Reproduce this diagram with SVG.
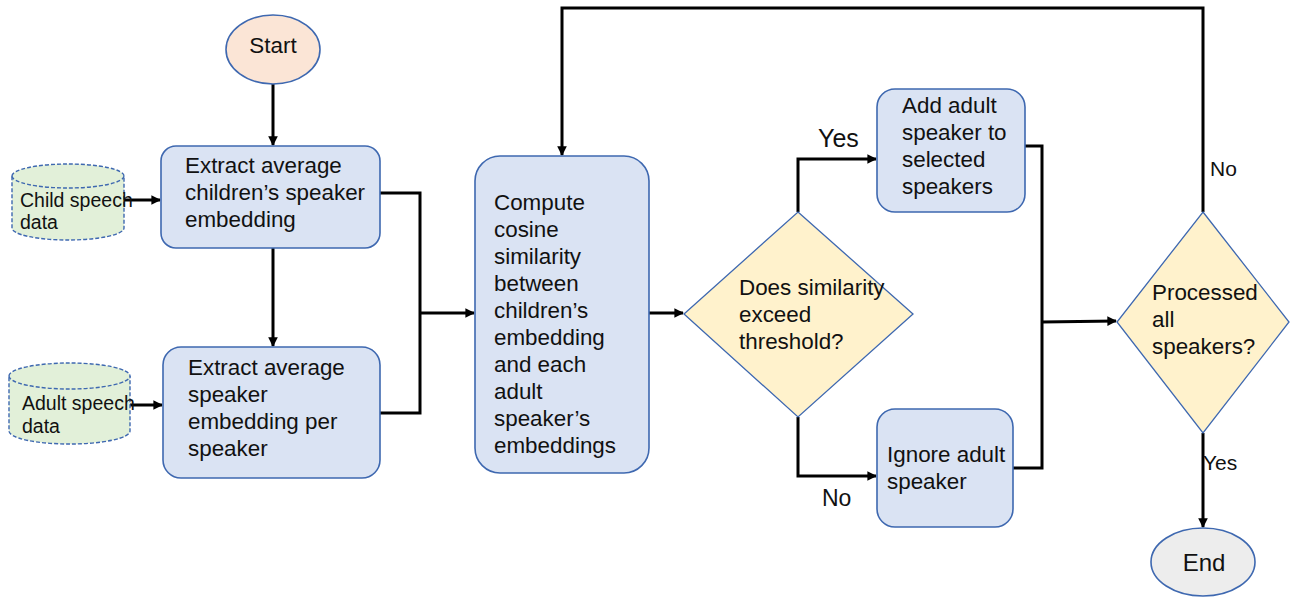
<svg xmlns="http://www.w3.org/2000/svg" width="1290" height="597" viewBox="0 0 1290 597">
<defs>
<marker id="arr" viewBox="0 0 10 10" refX="9" refY="5" markerWidth="3.6" markerHeight="3.2" orient="auto" markerUnits="strokeWidth">
<path d="M0,0 L10,5 L0,10 Z" fill="#000"/>
</marker>
</defs>
<style>
.box{fill:#dae3f3;stroke:#3e68b0;stroke-width:1.6}
.dia{fill:#fff2cc;stroke:#3e68b0;stroke-width:1.3}
.cyl{fill:#e2f0d9;stroke:#3e68b0;stroke-width:1.4;stroke-dasharray:4 2}
.t{font-family:"Liberation Sans",Arial,sans-serif;font-size:22.4px;fill:#111}
.s{font-family:"Liberation Sans",Arial,sans-serif;font-size:19.5px;fill:#111}
.c{fill:none;stroke:#000;stroke-width:3}
.ca{fill:none;stroke:#000;stroke-width:3;marker-end:url(#arr)}
</style>
<rect width="1290" height="597" fill="#fff"/>

<g id="connectors">
<path class="ca" d="M273,84 L273,145"/>
<path class="ca" d="M122,200 L160,200"/>
<path class="ca" d="M273,248 L273,346"/>
<path class="ca" d="M128,405 L162,405"/>
<path class="c" d="M380,193 L420,193 L420,413 L380,413"/>
<path class="ca" d="M420,313 L474,313"/>
<path class="ca" d="M649,313 L683,313"/>
<path class="ca" d="M798,212 L798,159 L876,159"/>
<path class="ca" d="M798,417 L798,476 L876,476"/>
<path class="c" d="M1025,146 L1042,146 L1042,468 L1013,468"/>
<path class="ca" d="M1042,322 L1116,321"/>
<path class="ca" d="M1203,212 L1203,8 L562,8 L562,155"/>
<path class="ca" d="M1203,433 L1203,527"/>
<text class="t" x="818" y="147" style="font-size:25px">Yes</text>
<text class="t" x="822" y="506" style="font-size:23px">No</text>
<text class="t" x="1210" y="176" style="font-size:21px">No</text>
<text class="t" x="1203" y="470" style="font-size:21px">Yes</text>
</g>

<g id="start">
<ellipse cx="273" cy="49.5" rx="47" ry="34.5" fill="#fbe5d6" stroke="#3e68b0" stroke-width="1.6"/>
<text class="t" x="273" y="53" text-anchor="middle">Start</text>
</g>

<g id="child-data">
<path class="cyl" d="M12,176 A56,12 0 0 1 124,176 L124,228 A56,12 0 0 1 12,228 Z"/>
<path class="cyl" d="M12,176 A56,12 0 0 0 124,176" fill="none"/>
<text class="s" x="20" y="207">Child speech</text>
<text class="s" x="20" y="229">data</text>
</g>

<g id="adult-data">
<path class="cyl" d="M9,376 A60.5,13 0 0 1 130,376 L130,431 A60.5,13 0 0 1 9,431 Z"/>
<path class="cyl" d="M9,376 A60.5,13 0 0 0 130,376" fill="none"/>
<text class="s" x="22" y="410">Adult speech</text>
<text class="s" x="22" y="433">data</text>
</g>

<g id="extract-children">
<rect class="box" x="161" y="146" width="219" height="102" rx="15"/>
<text class="t" x="185" y="173">Extract average</text>
<text class="t" x="185" y="200">children’s speaker</text>
<text class="t" x="185" y="227">embedding</text>
</g>

<g id="extract-adult">
<rect class="box" x="163" y="347" width="217" height="131" rx="18"/>
<text class="t" x="188" y="375">Extract average</text>
<text class="t" x="188" y="402">speaker</text>
<text class="t" x="188" y="429">embedding per</text>
<text class="t" x="188" y="456">speaker</text>
</g>

<g id="compute">
<rect class="box" x="475" y="156" width="174" height="317" rx="25"/>
<text class="t" x="494" y="210">Compute</text>
<text class="t" x="494" y="237">cosine</text>
<text class="t" x="494" y="264">similarity</text>
<text class="t" x="494" y="291">between</text>
<text class="t" x="494" y="318">children’s</text>
<text class="t" x="494" y="345">embedding</text>
<text class="t" x="494" y="372">and each</text>
<text class="t" x="494" y="399">adult</text>
<text class="t" x="494" y="426">speaker’s</text>
<text class="t" x="494" y="453">embeddings</text>
</g>

<g id="threshold">
<polygon class="dia" points="798,212 913,314 798,417 684,314"/>
<text class="t" x="739" y="295">Does similarity</text>
<text class="t" x="739" y="322">exceed</text>
<text class="t" x="739" y="349">threshold?</text>
</g>

<g id="add-speaker">
<rect class="box" x="877" y="89" width="148" height="123" rx="18"/>
<text class="t" x="902" y="113">Add adult</text>
<text class="t" x="902" y="140">speaker to</text>
<text class="t" x="902" y="167">selected</text>
<text class="t" x="902" y="194">speakers</text>
</g>

<g id="ignore-speaker">
<rect class="box" x="877" y="409" width="136" height="118" rx="18"/>
<text class="t" x="887" y="462">Ignore adult</text>
<text class="t" x="887" y="489">speaker</text>
</g>

<g id="processed">
<polygon class="dia" points="1203,212 1289,322 1203,433 1117,322"/>
<text class="t" x="1152" y="300">Processed</text>
<text class="t" x="1152" y="327">all</text>
<text class="t" x="1152" y="354">speakers?</text>
</g>

<g id="end">
<ellipse cx="1203" cy="562" rx="52" ry="34" fill="#ededed" stroke="#3e68b0" stroke-width="1.6"/>
<text class="t" x="1204" y="571" text-anchor="middle" style="font-size:24px">End</text>
</g>
</svg>
